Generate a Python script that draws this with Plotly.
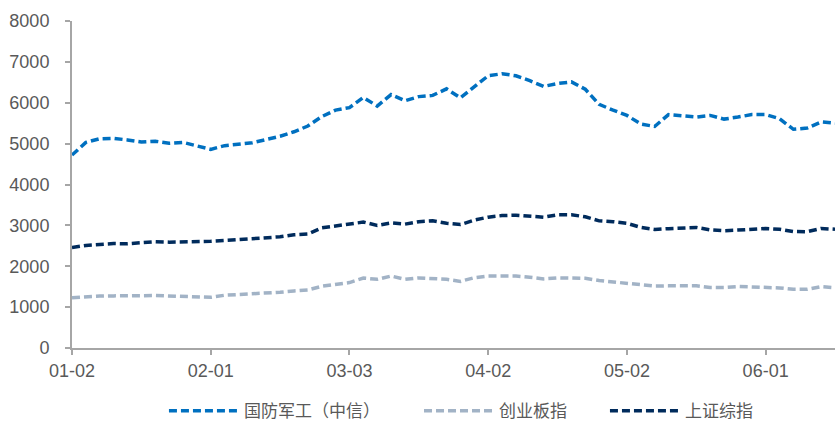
import pandas as pd
import plotly.graph_objects as go

# Sampling dates: every 3 calendar days from 2 Jan
dates = pd.date_range("2019-01-02", periods=56, freq="3D")

defense = [4720, 5030, 5120, 5130, 5090, 5040, 5060, 5010, 5030, 4940,
           4860, 4950, 4980, 5020, 5100, 5180, 5290, 5430, 5660, 5820,
           5880, 6130, 5920, 6200, 6050, 6150, 6180, 6340, 6120, 6380,
           6660, 6710, 6660, 6540, 6400, 6470, 6510, 6330, 5960, 5820,
           5690, 5480, 5420, 5710, 5680, 5650, 5690, 5600, 5650, 5710,
           5710, 5610, 5350, 5380, 5530, 5500]

chinext = [1230, 1260, 1270, 1275, 1270, 1280, 1285, 1275, 1270, 1265,
           1240, 1290, 1305, 1320, 1345, 1365, 1395, 1420, 1510, 1550,
           1600, 1710, 1680, 1760, 1680, 1715, 1705, 1680, 1630, 1720,
           1760, 1770, 1760, 1730, 1690, 1715, 1720, 1705, 1650, 1620,
           1595, 1555, 1515, 1520, 1520, 1520, 1480, 1480, 1505, 1500,
           1490, 1470, 1435, 1435, 1500, 1475]

shanghai = [2460, 2510, 2535, 2555, 2550, 2575, 2600, 2590, 2595, 2595,
            2610, 2630, 2650, 2665, 2705, 2720, 2770, 2790, 2940, 2980,
            3030, 3080, 3000, 3060, 3030, 3090, 3110, 3050, 3020, 3130,
            3200, 3240, 3250, 3235, 3200, 3260, 3260, 3210, 3110, 3090,
            3050, 2950, 2900, 2920, 2930, 2950, 2890, 2870, 2885, 2910,
            2925, 2905, 2850, 2845, 2925, 2905]

series = [
    ("国防军工（中信）", defense, "#0070C0", "legend"),
    ("创业板指", chinext, "#A2B3C6", "legend2"),
    ("上证综指", shanghai, "#002B5C", "legend3"),
]

y_ticks = [0, 1000, 2000, 3000, 4000, 5000, 6000, 7000, 8000]

fig = go.Figure()
for name, vals, color, lg in series:
    fig.add_trace(go.Scatter(
        x=dates, y=vals, name=name, mode="lines", legend=lg,
        line=dict(color=color, width=3.5, dash="8px,4px"),
    ))

axis_font = dict(family="Liberation Sans, Arial, sans-serif", size=18, color="#595959")
legend_font = dict(family="Noto Sans CJK SC, sans-serif", size=17, color="#595959")


def legend_box(x):
    # one legend box per series so each entry sits at its own spot
    return dict(orientation="h", x=x, xanchor="left", y=-0.193, yanchor="middle",
                font=legend_font, itemwidth=70, bgcolor="rgba(0,0,0,0)")


fig.update_layout(
    width=837, height=421,
    margin=dict(l=72, r=2, t=21, b=73, autoexpand=False),
    paper_bgcolor="white", plot_bgcolor="white",
    showlegend=True,
    legend=legend_box(0.1205),
    legend2=legend_box(0.4548),
    legend3=legend_box(0.6985),
    xaxis=dict(
        type="date", range=[dates[0], dates[-1]],
        tick0=dates[0], dtick=30 * 86400000, tickformat="%m-%d",
        showgrid=False, zeroline=False,
        showline=True, linecolor="#A6A6A6", linewidth=2,
        ticks="outside", ticklen=5, tickcolor="#A6A6A6", tickwidth=1.5,
        tickfont=axis_font,
    ),
    yaxis=dict(
        range=[0, 8000], tickvals=y_ticks,
        showgrid=False, zeroline=False,
        showline=True, linecolor="#A6A6A6", linewidth=2,
        ticks="outside", ticklen=5, tickcolor="#A6A6A6", tickwidth=1.5,
        tickfont=axis_font, ticklabelstandoff=12,
    ),
)

fig.write_html("out.html")
